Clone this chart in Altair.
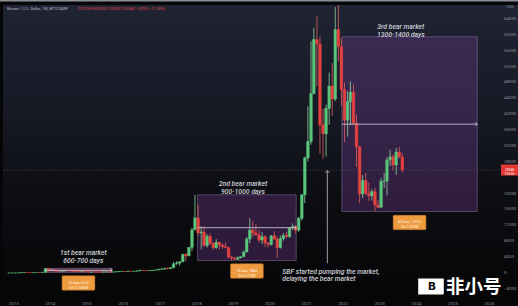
import altair as alt
import pandas as pd

W, H = 498, 293

# ---------------- monthly candles (BTC/USD, Bitstamp), Nov 2012 .. Aug 2023 ----------------
open_ = [11.2, 12.6,
         13.5, 20.4, 33.4, 93, 139, 129, 97, 106, 135, 133, 204, 1130,
         730, 800, 550, 445, 447, 625, 635, 580, 475, 385, 340, 375,
         320, 218, 254, 244, 236, 230, 263, 284, 230, 236, 314, 377,
         430, 368, 437, 416, 448, 531, 670, 624, 574, 608, 700, 742,
         963, 968, 1190, 1080, 1348, 2300, 2480, 2860, 4700, 4340, 6450, 10860,
         13880, 10110, 10310, 6930, 9240, 7490, 6390, 7730, 7020, 6630, 6370, 4020,
         3740, 3460, 3820, 4100, 5280, 8560, 10820, 10090, 9590, 8290, 9150, 7550,
         7190, 9350, 8540, 6410, 8630, 9450, 9140, 11330, 11650, 10780, 13800, 19700,
         28990, 33110, 45200, 58800, 57700, 37300, 35040, 41460, 47100, 43820, 61300, 57000,
         46220, 38480, 43190, 45540, 37650, 31800, 19950, 23300, 20050, 19420, 20490, 17160,
         16540, 23130, 23150, 28470, 29250, 27210, 30470, 29230]
high_ = [12.6, 13.9,
         20.7, 33.4, 95, 266, 140, 129, 112, 140, 145, 215, 1163, 1163,
         1000, 850, 705, 545, 635, 680, 650, 600, 500, 420, 455, 385,
         320, 265, 300, 262, 248, 268, 318, 285, 245, 335, 502, 470,
         464, 448, 440, 470, 550, 780, 705, 630, 640, 720, 755, 975,
         1155, 1210, 1290, 1350, 2760, 3000, 2920, 4750, 5000, 6460, 11400, 19670,
         17180, 11790, 11700, 9760, 9990, 7760, 8500, 7750, 7410, 7680, 6620, 4240,
         4110, 4200, 4120, 5620, 9070, 13880, 13200, 12320, 10900, 10370, 9500, 7750,
         9570, 10500, 9180, 9470, 10080, 10380, 11440, 12470, 12080, 14100, 19900, 29300,
         41990, 58350, 61800, 64850, 59600, 41350, 42400, 50500, 52900, 66970, 69000, 59050,
         47990, 45800, 48200, 47450, 39900, 31980, 24670, 25200, 22800, 21090, 21470, 18390,
         23950, 25250, 29180, 31050, 29840, 31440, 31800, 30230]
low_ = [10.5, 12.6,
        13.2, 19.1, 33, 50, 79, 90, 65, 102, 109, 102, 203, 400,
        730, 400, 435, 340, 420, 550, 570, 440, 360, 275, 315, 290,
        152, 200, 235, 214, 225, 218, 252, 162, 225, 235, 300, 345,
        350, 365, 397, 413, 436, 530, 600, 465, 590, 605, 680, 740,
        750, 918, 890, 1060, 1340, 2080, 1840, 2700, 2970, 4170, 5500, 10800,
        9400, 5970, 6600, 6430, 7050, 5750, 6070, 5880, 6100, 6200, 3650, 3120,
        3350, 3390, 3700, 4080, 5240, 7520, 9070, 9400, 7710, 7300, 6530, 6430,
        6870, 8450, 3850, 6150, 8120, 8900, 8960, 10950, 9880, 10380, 13220, 17600,
        28100, 32300, 44950, 47000, 30000, 28800, 29300, 37330, 39600, 43300, 53250, 42000,
        32950, 34320, 37200, 37700, 26700, 17600, 18800, 19600, 18150, 18200, 15480, 16300,
        16500, 21350, 19550, 26940, 25810, 24750, 28860, 25330]
close_ = [12.6, 13.5,
          20.4, 33.4, 93, 139, 129, 97, 106, 135, 133, 204, 1130, 730,
          800, 550, 445, 447, 625, 635, 580, 475, 385, 340, 375, 320,
          218, 254, 244, 236, 230, 263, 284, 230, 236, 314, 377, 430,
          368, 437, 416, 448, 531, 670, 624, 574, 608, 700, 742, 963,
          968, 1190, 1080, 1348, 2300, 2480, 2860, 4700, 4340, 6450, 10860, 13880,
          10110, 10310, 6930, 9240, 7490, 6390, 7730, 7020, 6630, 6370, 4020, 3740,
          3460, 3820, 4100, 5280, 8560, 10820, 10090, 9590, 8290, 9150, 7550, 7190,
          9350, 8540, 6410, 8630, 9450, 9140, 11330, 11650, 10780, 13800, 19700, 28990,
          33110, 45200, 58800, 57700, 37300, 35040, 41460, 47100, 43820, 61300, 57000, 46220,
          38480, 43190, 45540, 37650, 31800, 19950, 23300, 20050, 19420, 20490, 17160, 16540,
          23130, 23150, 28470, 29250, 27210, 30470, 29230, 25940]

# ---------------- annotations ----------------
box_start = ["2013-11-07", "2018-01-10", "2021-12-20"]
box_end = ["2015-09-10", "2020-09-20", "2025-09-01"]
box_low = [152, 3120, 15480]
box_high = [1163, 19700, 59500]

ann_text = ["1st bear market\n600-700 days", "2nd bear market\n900-1000 days", "3rd bear market\n1300-1400 days"]
ann_date = ["2014-11-27", "2019-04-08", "2023-07-31"]
ann_price = [4960, 22300, 61860]

sbf_text = ["SBF started pumping the market,\ndelaying the bear market"]
sbf_date = ["2020-05-05"]
sbf_price = [250]
arrow_date = ["2021-07-28"]
arrow_from = [2440]
arrow_to = [25800]

tag_text = ["22 bars, 672d\nVol 12.586M", "33 bars, 984d\nVol 6.272M", "45 bars, 1,351d\nVol 1.331M"]
tag_price = [-2520, 504, 12720]

y_labels = [64000, 60000, 56000, 52000, 48000, 44000, 40000, 36000, 32000, 28000,
            20000, 16000, 12000, 8000, 4000, 0, -4000]
year_labels = list(range(2013, 2027))
last_price = close_[-1]
header_name = "Bitcoin / U.S. Dollar, 1M, BITSTAMP"
header_ohlc = "O29230  H30230  L25330  C25940  −3290 (−11.26%)"

# ---------------- styles ----------------
GREEN, RED = "#5cc57c", "#e5433f"
WICK_G, WICK_R = "#8fd3a0", "#e0605e"
TXT = "#cfd0d8"
AX = "#8c8f99"
FONT = "Roboto"
box_fill = ["#b5507e", "#7b3fa0", "#7b3fa0"]
box_op = [0.5, 0.32, 0.32]

# ---------------- frames ----------------
dates = pd.date_range("2012-11-01", periods=len(close_), freq="MS") + pd.Timedelta(days=14)
candles = pd.DataFrame({"date": dates, "open": open_, "high": high_, "low": low_, "close": close_})
candles["dir"] = ["up" if c >= o else "down" for o, c in zip(open_, close_)]

boxes = pd.DataFrame({"start": pd.to_datetime(box_start), "end": pd.to_datetime(box_end),
                      "low": box_low, "high": box_high})
boxes["mid"] = (boxes["low"] + boxes["high"]) / 2
boxes["center"] = boxes["start"] + (boxes["end"] - boxes["start"]) / 2
boxes["tag"] = tag_text
boxes["tag_price"] = tag_price

ann = pd.DataFrame({"date": pd.to_datetime(ann_date), "price": ann_price, "text": ann_text})
sbf = pd.DataFrame({"date": pd.to_datetime(sbf_date), "price": sbf_price, "text": sbf_text})
arrow = pd.DataFrame({"date": pd.to_datetime(arrow_date), "p0": arrow_from, "p1": arrow_to})
last = pd.DataFrame({"price": [last_price], "label": [f"{last_price}\n12d 5h"]})
ylab = pd.DataFrame({"v": y_labels})
xlab = pd.DataFrame({"d": pd.to_datetime([f"{y}-01-01" for y in year_labels]),
                     "t": [str(y) for y in year_labels]})
one = pd.DataFrame({"a": [0]})

x_dom = [alt.DateTime(year=2012, month=11, date=5), alt.DateTime(year=2026, month=3, date=7)]
y_dom = [-6300, 67500]


def X(f):
    return alt.X(f, type="temporal", scale=alt.Scale(domain=x_dom, nice=False), axis=None)


def Y(f):
    return alt.Y(f, type="quantitative", scale=alt.Scale(domain=y_dom, nice=False, zero=False), axis=None)


layers = []

# background gradient (plot + right price panel)
grad = {"gradient": "linear", "x1": 0, "y1": 0, "x2": 0, "y2": 1,
        "stops": [{"offset": 0, "color": "#1f2333"}, {"offset": 0.35, "color": "#171a25"},
                  {"offset": 0.65, "color": "#0d0e13"}, {"offset": 1, "color": "#060607"}]}
layers.append(alt.Chart(one).mark_rect(fill=grad).encode(
    x=alt.value(0), x2=alt.value(W + 17), y=alt.value(0), y2=alt.value(H)))

# top screenshot edge
layers.append(alt.Chart(one).mark_rule(color="#8e9098", strokeWidth=1.4).encode(
    x=alt.value(-3), x2=alt.value(W + 17), y=alt.value(-4.3)))

# boxes
for i in range(len(box_start)):
    b = boxes.iloc[[i]]
    layers.append(alt.Chart(b).mark_rect(fill=box_fill[i], fillOpacity=box_op[i], stroke="#9a86b0",
                                         strokeOpacity=0.55, strokeWidth=0.8).encode(
        x=X("start"), x2="end", y=Y("low"), y2="high"))

# current price line
layers.append(alt.Chart(last).mark_rule(color="#4a4c57", strokeWidth=0.7, strokeDash=[1.5, 1.5]).encode(
    y=Y("price"), x=alt.value(0), x2=alt.value(W)))

# candles
layers.append(alt.Chart(candles).mark_rule(strokeWidth=0.8, clip=True).encode(
    x=X("date"), y=Y("low"), y2="high",
    color=alt.Color("dir:N", scale=alt.Scale(domain=["up", "down"], range=[WICK_G, WICK_R]), legend=None)))
layers.append(alt.Chart(candles).mark_bar(size=2.6, strokeWidth=0.5, clip=True).encode(
    x=X("date"), y=Y("open"), y2="close",
    fill=alt.Fill("dir:N", scale=alt.Scale(domain=["up", "down"], range=[GREEN, RED]), legend=None),
    stroke=alt.Stroke("dir:N", scale=alt.Scale(domain=["up", "down"], range=[GREEN, RED]), legend=None)))

# box middle arrows
layers.append(alt.Chart(boxes).mark_rule(color="#cbbfd8", strokeWidth=0.9).encode(
    x=X("start"), x2="end", y=Y("mid")))
layers.append(alt.Chart(boxes).mark_point(shape="M-1,-1L0,0L-1,1", filled=False, size=14,
                                          color="#cbbfd8", strokeWidth=0.9, opacity=1).encode(
    x=X("end"), y=Y("mid")))

# SBF arrow
layers.append(alt.Chart(arrow).mark_rule(color="#9c9ca6", strokeWidth=1).encode(
    x=X("date"), y=Y("p0"), y2="p1"))
layers.append(alt.Chart(arrow).mark_point(shape="M-1,1L0,0L1,1", filled=False, size=22,
                                          color="#9c9ca6", strokeWidth=1, opacity=1).encode(
    x=X("date"), y=Y("p1")))

# orange tags
tag_shape = ("M-1.5,-0.7H1.5Q1.6,-0.7 1.6,-0.6V0.6Q1.6,0.7 1.5,0.7H-1.5Q-1.6,0.7 -1.6,0.6"
             "V-0.6Q-1.6,-0.7 -1.5,-0.7Z")
layers.append(alt.Chart(boxes).mark_point(shape=tag_shape, filled=True, size=420, color="#ee9a3e",
                                          opacity=1, stroke="#c87a2a", strokeWidth=0.5).encode(
    x=X("center"), y=Y("tag_price")))
layers.append(alt.Chart(boxes).mark_text(fontSize=3.4, color="#fff6e8", font=FONT, lineBreak="\n",
                                         lineHeight=4.8, baseline="middle", align="center").encode(
    x=X("center"), y=Y("tag_price"), text="tag"))

# annotation texts
layers.append(alt.Chart(ann).mark_text(fontSize=6.8, color=TXT, font=FONT, fontStyle="italic",
                                       fontWeight=500, lineBreak="\n", lineHeight=7.4,
                                       baseline="middle", align="center").encode(
    x=X("date"), y=Y("price"), text="text"))
layers.append(alt.Chart(sbf).mark_text(fontSize=6.8, color=TXT, font=FONT, fontStyle="italic",
                                       fontWeight=500, lineBreak="\n", lineHeight=7.4,
                                       baseline="middle", align="left").encode(
    x=X("date"), y=Y("price"), text="text"))

# price-scale labels (right) and year labels (bottom)
layers.append(alt.Chart(ylab).mark_text(fontSize=4.4, color=AX, font=FONT, align="left",
                                        baseline="middle").encode(
    x=alt.value(W + 3), y=Y("v"), text=alt.Text("v:Q", format="d")))
layers.append(alt.Chart(xlab).mark_text(fontSize=4.4, color=AX, font=FONT, align="center",
                                        baseline="middle").encode(
    x=X("d"), y=alt.value(H + 5.5), text="t"))

# last price label on the price scale
layers.append(alt.Chart(last).mark_point(shape="M-0.85,-0.55H0.85V0.55H-0.85Z", filled=True, size=400,
                                         color="#e53935", opacity=1).encode(
    x=alt.value(W + 8.5), y=Y("price")))
layers.append(alt.Chart(last).mark_text(fontSize=3.3, color="white", font=FONT, lineBreak="\n",
                                        lineHeight=4.2, baseline="middle", align="center").encode(
    x=alt.value(W + 8.5), y=Y("price"), text="label"))

# USD + header
layers.append(alt.Chart(one).mark_text(text="USD", fontSize=4.2, color=AX, font=FONT, align="center",
                                       baseline="middle").encode(x=alt.value(W + 9), y=alt.value(2)))
layers.append(alt.Chart(one).mark_text(text=header_name, fontSize=3.9, color="#b8bac2", font=FONT,
                                       align="left", baseline="middle").encode(x=alt.value(4), y=alt.value(3.5)))
layers.append(alt.Chart(one).mark_text(text=header_ohlc, fontSize=3.9, color="#e0474a", font=FONT,
                                       align="left", baseline="middle").encode(x=alt.value(75), y=alt.value(3.5)))

# watermark (kept left of the price-scale labels)
layers.append(alt.Chart(one).mark_point(
    shape="M-1.6,-1H1.5Q1.6,-1 1.6,-0.9V0.9Q1.6,1 1.5,1H-1.6Z", filled=True, size=256,
    color="white", opacity=1).encode(x=alt.value(428), y=alt.value(281.5)))
layers.append(alt.Chart(one).mark_text(text="B", fontSize=11, fontWeight="bold", color="#111",
                                       font="DejaVu Sans", align="center", baseline="middle").encode(
    x=alt.value(429), y=alt.value(282)))
layers.append(alt.Chart(one).mark_text(text="非小号", fontSize=18.5, fontWeight="bold", color="white",
                                       font="Noto Sans CJK SC", align="left", baseline="middle").encode(
    x=alt.value(443), y=alt.value(281.5)))

chart = alt.layer(*layers).properties(
    width=W, height=H,
    padding={"left": 3, "top": 5, "right": 17, "bottom": 8},
    autosize=alt.AutoSizeParams(type="none"),
    background="#060608",
).configure_view(strokeWidth=0)

chart.save("out.html", embed_options={"renderer": "svg", "actions": False})
